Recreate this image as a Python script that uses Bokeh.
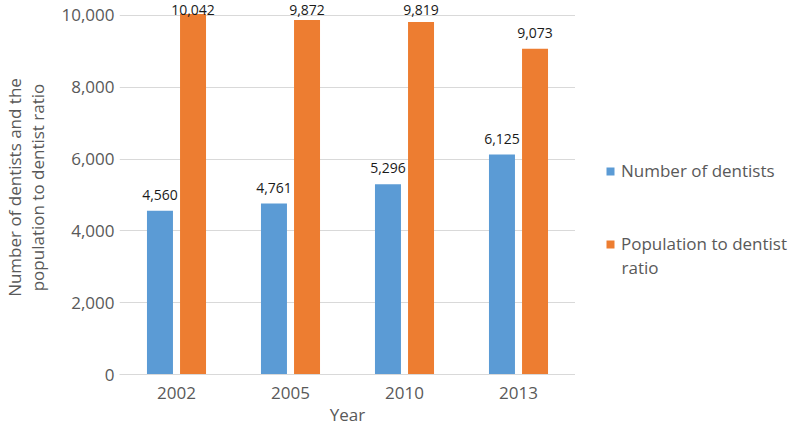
import numpy as np
from bokeh.plotting import figure
from bokeh.layouts import row
from bokeh.models import (ColumnDataSource, FactorRange, FixedTicker, NumeralTickFormatter,
                          LabelSet, Label, Legend, LegendItem, Range1d)
from bokeh.core.properties import value
from bokeh.transform import dodge
from bokeh.embed import file_html
from bokeh.resources import INLINE

years = ["2002", "2005", "2010", "2013"]
dentists = [4560, 4761, 5296, 6125]
ratio = [10042, 9872, 9819, 9073]
y_ticks = [0, 2000, 4000, 6000, 8000, 10000]
series_names = ["Number of dentists", "Population to dentist", "ratio"]
x_title = "Year"
y_title = "Number of dentists and the\npopulation to dentist ratio"

BLUE = "#5b9bd5"
ORANGE = "#ed7d31"
GREY = "#595959"
FONT = "Open Sans"
Y_END = 10417          # top of the plotting area (data units)
LABEL_CAP = 9694       # data labels are kept inside the plotting area (as Excel does)

src = ColumnDataSource(dict(
    year=years,
    dentists=dentists,
    ratio=ratio,
    dentists_ly=np.minimum(dentists, LABEL_CAP),
    ratio_ly=np.minimum(ratio, LABEL_CAP),
    dentists_txt=["{:,}".format(v) for v in dentists],
    ratio_txt=["{:,}".format(v) for v in ratio],
))

p = figure(
    x_range=FactorRange(factors=years, range_padding=0),
    y_range=Range1d(0, Y_END),
    width=575, height=428,
    min_border_left=119, min_border_right=0, min_border_top=0, min_border_bottom=0,
    output_backend="svg", toolbar_location=None,
    background_fill_color="white", border_fill_color="white",
)
p.outline_line_color = None

off = 0.145
bw = 0.228
p.vbar(x=dodge("year", -off, range=p.x_range), top="dentists", width=bw, source=src,
       fill_color=BLUE, line_color=None)
p.vbar(x=dodge("year", off, range=p.x_range), top="ratio", width=bw, source=src,
       fill_color=ORANGE, line_color=None)

for col, txt, o in (("dentists_ly", "dentists_txt", -off), ("ratio_ly", "ratio_txt", off)):
    ls = LabelSet(x=dodge("year", o, range=p.x_range), y=col, text=txt, source=src,
                  text_align="center", text_baseline="alphabetic", y_offset=11,
                  text_font=value(FONT), text_font_size="14px", text_color="#1a1a1a")
    p.add_layout(ls)

# axes
p.yaxis.ticker = FixedTicker(ticks=y_ticks)
p.yaxis.formatter = NumeralTickFormatter(format="0,0")
p.yaxis.axis_line_color = None
p.yaxis.major_tick_line_color = None
p.yaxis.minor_tick_line_color = None
p.yaxis.major_tick_out = 0
p.yaxis.major_tick_in = 0
p.yaxis.major_label_standoff = 5
p.yaxis.major_label_text_font = FONT
p.yaxis.major_label_text_font_size = "17px"
p.yaxis.major_label_text_color = GREY
p.yaxis.axis_label = y_title
p.yaxis.axis_label_standoff = 9
p.yaxis.axis_label_text_font = FONT
p.yaxis.axis_label_text_font_size = "17px"
p.yaxis.axis_label_text_font_style = "normal"
p.yaxis.axis_label_text_color = GREY
p.yaxis.axis_label_text_line_height = 1.0

p.xaxis.axis_line_color = "#d9d9d9"
p.xaxis.major_tick_line_color = None
p.xaxis.minor_tick_line_color = None
p.xaxis.major_tick_out = 0
p.xaxis.major_tick_in = 0
p.xaxis.major_label_standoff = 12
p.xaxis.major_label_text_font = FONT
p.xaxis.major_label_text_font_size = "17px"
p.xaxis.major_label_text_color = GREY
p.xaxis.axis_label = x_title
p.xaxis.axis_label_standoff = 1
p.xaxis.axis_label_text_font = FONT
p.xaxis.axis_label_text_font_size = "17px"
p.xaxis.axis_label_text_font_style = "normal"
p.xaxis.axis_label_text_color = GREY

p.xgrid.grid_line_color = None
p.ygrid.grid_line_color = "#d9d9d9"
p.ygrid.ticker = FixedTicker(ticks=y_ticks)

# legend panel to the right of the chart
pl = figure(width=213, height=428, x_range=Range1d(0, 1), y_range=Range1d(0, 1),
            min_border=0, output_backend="svg", toolbar_location=None,
            x_axis_type=None, y_axis_type=None)
pl.outline_line_color = None
pl.xgrid.visible = False
pl.ygrid.visible = False
# legend swatches (drawn outside this panel's visible range)
lr1 = pl.vbar(x=[5], top=[5], bottom=[4], width=0.1, fill_color=BLUE, line_color=None)
lr2 = pl.vbar(x=[5], top=[5], bottom=[4], width=0.1, fill_color=ORANGE, line_color=None)
legend = Legend(items=[LegendItem(label=series_names[0], renderers=[lr1]),
                       LegendItem(label=series_names[1], renderers=[lr2])],
                location=(30, 119), orientation="vertical",
                padding=0, margin=0, spacing=50, border_line_color=None,
                background_fill_alpha=0, glyph_width=10, glyph_height=10,
                label_standoff=6, label_text_font=FONT, label_text_font_size="17px",
                label_text_color=GREY)
pl.add_layout(legend, "center")
# wrapped second line of the orange legend entry
pl.add_layout(Label(x=46, y=107, x_units="screen", y_units="screen", text=series_names[2],
                    text_align="left", text_baseline="middle", text_font=FONT,
                    text_font_size="17px", text_color=GREY))

layout = row(p, pl)
open("out.html", "w").write(file_html(layout, INLINE))
